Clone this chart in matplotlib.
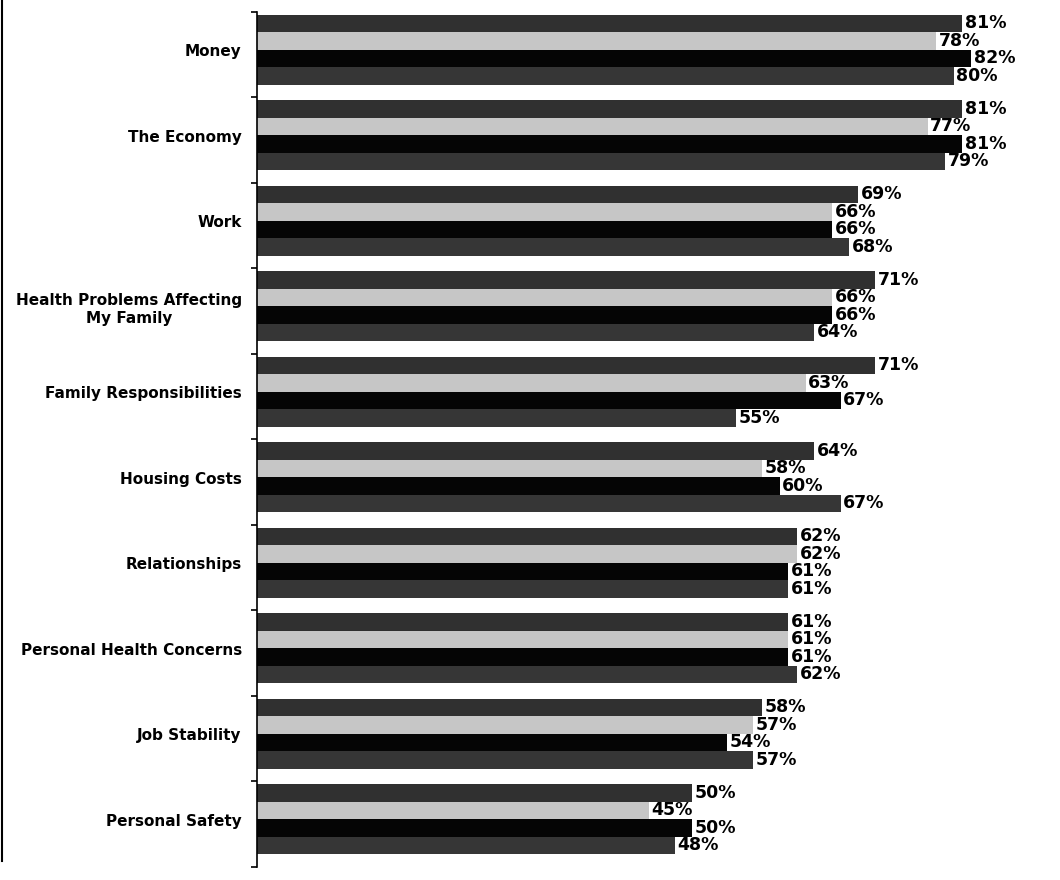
import numpy as np
import matplotlib
matplotlib.use('Agg')
from matplotlib import pyplot as plt
from matplotlib.lines import Line2D

categories = ['Money', 'The Economy', 'Work', 'Health Problems Affecting\nMy Family',
              'Family Responsibilities', 'Housing Costs', 'Relationships',
              'Personal Health Concerns', 'Job Stability', 'Personal Safety']

series_1 = [81, 81, 69, 71, 71, 64, 62, 61, 58, 50]
series_2 = [78, 77, 66, 66, 63, 58, 62, 61, 57, 45]
series_3 = [82, 81, 66, 66, 67, 60, 61, 61, 54, 50]
series_4 = [80, 79, 68, 64, 55, 67, 61, 62, 57, 48]

colors = ['#303030', '#c6c6c6', '#050505', '#363636']

plt.rcParams['font.family'] = ['DejaVu Sans']

fig = plt.figure(figsize=(10.6, 8.8), dpi=100)
ax = fig.add_axes([0.2425, 0.0148, 0.7575, 0.9716])

n = len(categories)
bar_h = 0.205
group_top = np.arange(n)  # group i spans [i, i+1], top at i (y inverted)

all_series = [series_1, series_2, series_3, series_4]
for k, vals in enumerate(all_series):
    y = group_top + 0.03 + bar_h * (k + 0.5)
    ax.barh(y, vals, height=bar_h, color=colors[k], edgecolor='none', linewidth=0)
    for yy, v in zip(y, vals):
        ax.text(v + 0.3, yy, f'{v}%', ha='left', va='center',
                fontsize=12.5, fontweight='bold', color='black')

ax.set_ylim(n, 0)
ax.set_xlim(0, 92.2)

ax.set_yticks(group_top + 0.45)
ax.set_yticklabels(categories, fontsize=11, fontweight='bold', ha='right')
ax.tick_params(axis='y', which='major', length=0, pad=11)
ax.set_yticks(np.arange(n + 1), minor=True)
ax.tick_params(axis='y', which='minor', length=4, width=1.2, direction='out')

for lbl in ax.get_yticklabels():
    lbl.set_multialignment('center')

ax.set_xticks([])
for side in ['top', 'right', 'bottom']:
    ax.spines[side].set_visible(False)
ax.spines['left'].set_linewidth(1.2)

# left border of the original picture
fig.add_artist(Line2D([0.002, 0.002], [0.022, 1.0], transform=fig.transFigure,
                      color='black', linewidth=1.5))

fig.savefig('out.png', dpi=100)
